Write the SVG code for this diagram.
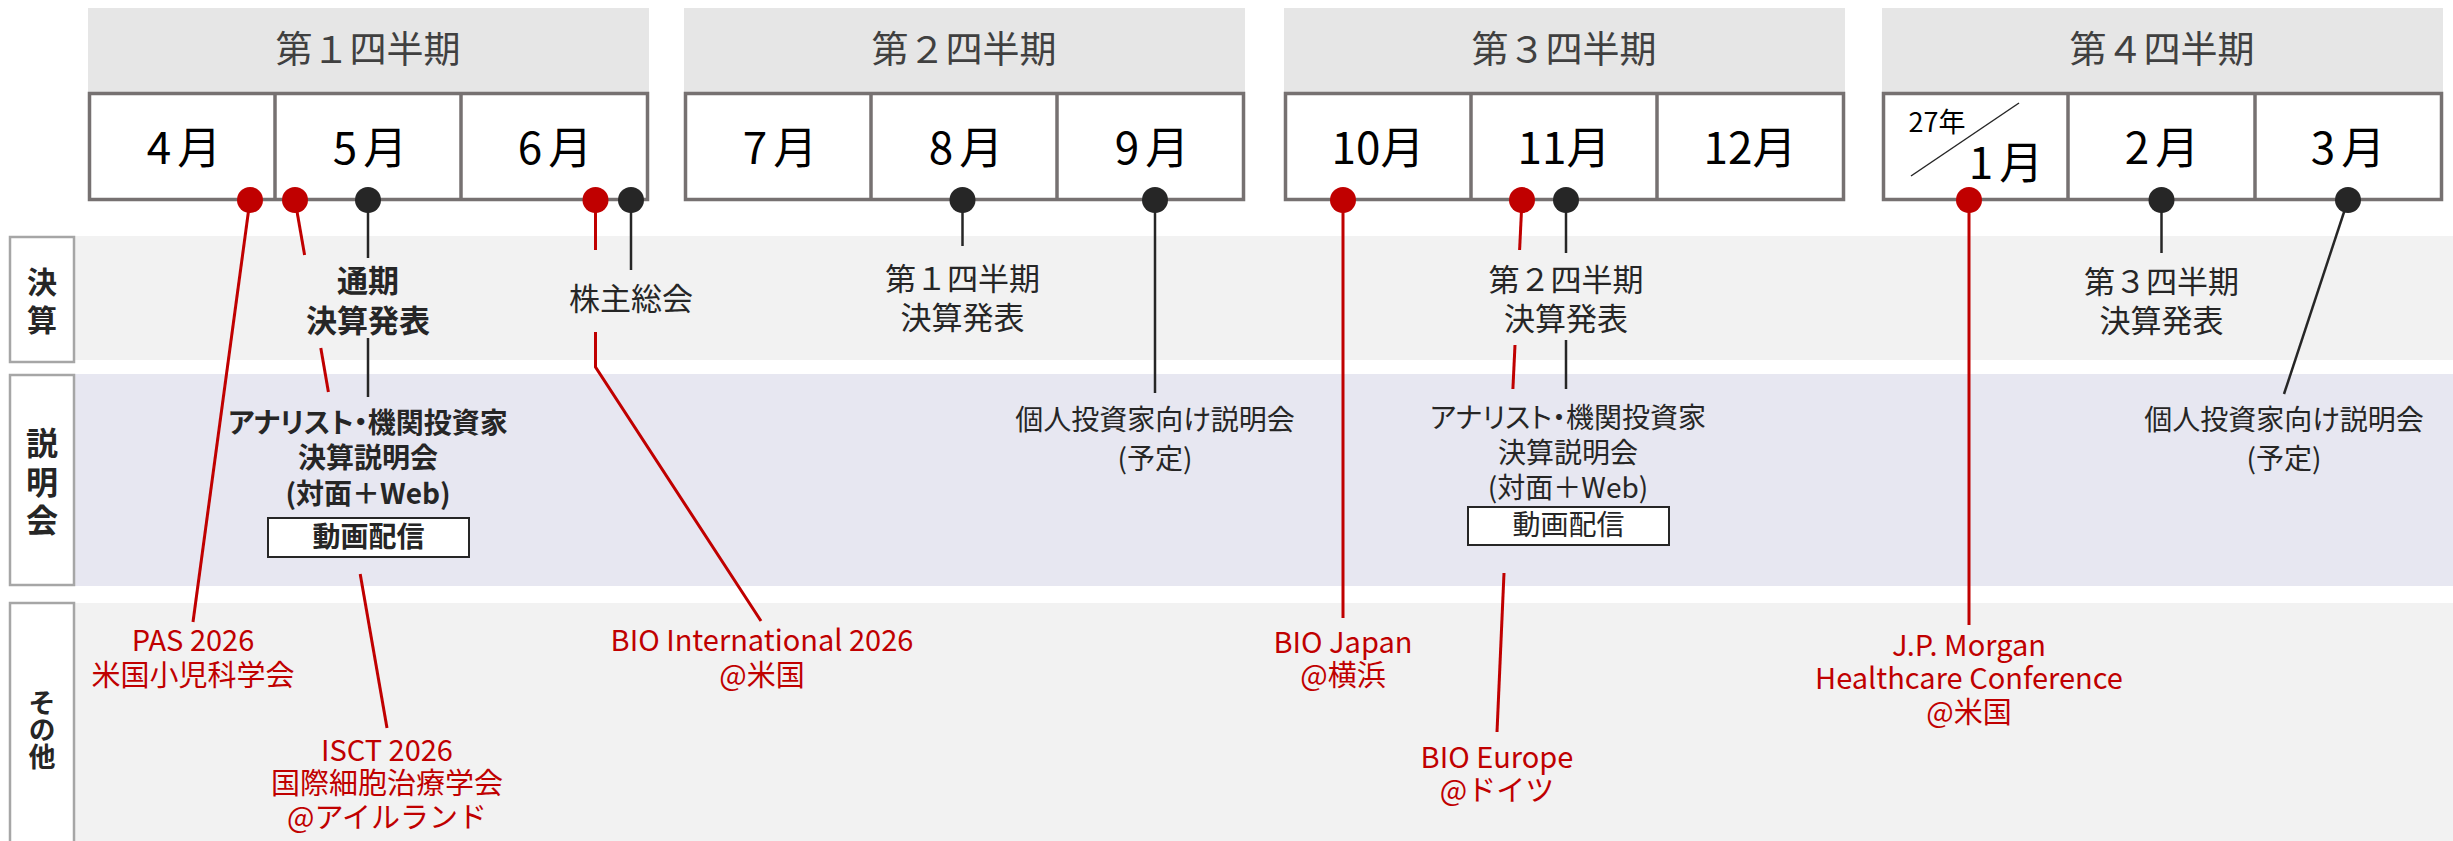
<svg xmlns="http://www.w3.org/2000/svg" width="2453" height="841" viewBox="0 0 2453 841">
<style>
text{font-family:"Noto Sans CJK JP","Noto Sans",sans-serif;text-anchor:middle}
.qh{fill:#e6e6e6}
.qt{font-size:37px;fill:#404040}
.mb{fill:#fff;stroke:#767171;stroke-width:3.5}
.md{stroke:#767171;stroke-width:3.5}
.mt{font-size:44px;fill:#000}
.band1{fill:#f2f2f2}
.band2{fill:#e7e7f1}
.lbox{fill:#fff;stroke:#a6a6a6;stroke-width:2.5}
.lt{font-weight:700;fill:#262626;writing-mode:vertical-rl}
.ev{font-size:31px;fill:#262626}
.evb{font-size:31px;fill:#262626;font-weight:700}
.an{font-size:28px;fill:#262626;font-feature-settings:"palt"}
.anb{font-size:28px;fill:#262626;font-weight:700;font-feature-settings:"palt"}
.vbox{fill:#fff;stroke:#262626;stroke-width:2}
.rt{font-size:29px;fill:#c00000}
.lr{stroke:#c00000;stroke-width:3;fill:none}
.lk{stroke:#262626;stroke-width:2.5;fill:none}
.dr{fill:#c00000}
.dk{fill:#262626}
</style>

<g id="bands">
<rect class="band1" x="74" y="236" width="2379" height="124"/>
<rect class="band2" x="74" y="374" width="2379" height="212"/>
<rect class="band1" x="74" y="603" width="2379" height="238"/>
</g>

<g id="row-kessan">
<rect class="lbox" x="10" y="237" width="64" height="125"/>
<text class="lt" font-size="30" letter-spacing="8" x="42" y="305">決算</text>
</g>
<g id="row-setsumeikai">
<rect class="lbox" x="10" y="375" width="64" height="210"/>
<text class="lt" font-size="32" letter-spacing="6.5" x="42" y="485">説明会</text>
</g>
<g id="row-sonota">
<rect class="lbox" x="10" y="603" width="64" height="250"/>
<text class="lt" font-size="27" x="42" y="730">その他</text>
</g>

<g id="q1">
<rect class="qh" x="88" y="8" width="561" height="86"/>
<text class="qt" x="368" y="63">第１四半期</text>
<rect class="mb" x="89.5" y="93.5" width="558" height="106"/>
<line class="md" x1="275" y1="93.5" x2="275" y2="199.5"/>
<line class="md" x1="461" y1="93.5" x2="461" y2="199.5"/>
<text class="mt" x="184" y="164">4<tspan dx="6">月</tspan></text>
<text class="mt" x="370" y="164">5<tspan dx="6">月</tspan></text>
<text class="mt" x="555" y="164">6<tspan dx="6">月</tspan></text>
</g>
<g id="q2">
<rect class="qh" x="684" y="8" width="561" height="86"/>
<text class="qt" x="964" y="63">第２四半期</text>
<rect class="mb" x="685.5" y="93.5" width="558" height="106"/>
<line class="md" x1="871" y1="93.5" x2="871" y2="199.5"/>
<line class="md" x1="1057" y1="93.5" x2="1057" y2="199.5"/>
<text class="mt" x="780" y="164">7<tspan dx="6">月</tspan></text>
<text class="mt" x="966" y="164">8<tspan dx="6">月</tspan></text>
<text class="mt" x="1152" y="164">9<tspan dx="6">月</tspan></text>
</g>
<g id="q3">
<rect class="qh" x="1284" y="8" width="561" height="86"/>
<text class="qt" x="1564" y="63">第３四半期</text>
<rect class="mb" x="1285.5" y="93.5" width="558" height="106"/>
<line class="md" x1="1471" y1="93.5" x2="1471" y2="199.5"/>
<line class="md" x1="1657" y1="93.5" x2="1657" y2="199.5"/>
<text class="mt" x="1378" y="164">10月</text>
<text class="mt" x="1564" y="164">11月</text>
<text class="mt" x="1750" y="164">12月</text>
</g>
<g id="q4">
<rect class="qh" x="1882" y="8" width="561" height="86"/>
<text class="qt" x="2162" y="63">第４四半期</text>
<rect class="mb" x="1883.5" y="93.5" width="558" height="106"/>
<line class="md" x1="2068" y1="93.5" x2="2068" y2="199.5"/>
<line class="md" x1="2255" y1="93.5" x2="2255" y2="199.5"/>
<line x1="1911" y1="176" x2="2019" y2="103" stroke="#262626" stroke-width="1.5"/>
<text x="1937" y="132" font-size="27" fill="#000">27年</text>
<text class="mt" x="2006" y="179">1<tspan dx="6">月</tspan></text>
<text class="mt" x="2162" y="164">2<tspan dx="6">月</tspan></text>
<text class="mt" x="2348" y="164">3<tspan dx="6">月</tspan></text>
</g>

<g id="connectors">
<line class="lr" x1="250" y1="200" x2="193" y2="622"/>
<line class="lr" x1="295" y1="200" x2="304.6" y2="255"/>
<line class="lr" x1="320.8" y1="348" x2="328.4" y2="392"/>
<line class="lr" x1="360.2" y1="574" x2="387" y2="728"/>
<line class="lk" x1="368" y1="200" x2="368" y2="258"/>
<line class="lk" x1="368" y1="338" x2="368" y2="397"/>
<line class="lr" x1="595.5" y1="200" x2="595.5" y2="250"/>
<polyline class="lr" points="595.5,332 595.5,367 761,621"/>
<line class="lk" x1="631" y1="200" x2="631" y2="270"/>
<line class="lk" x1="962.5" y1="200" x2="962.5" y2="246"/>
<line class="lk" x1="1155" y1="200" x2="1155" y2="393"/>
<line class="lr" x1="1343" y1="200" x2="1343" y2="618"/>
<line class="lr" x1="1522" y1="200" x2="1519.6" y2="250"/>
<line class="lr" x1="1515" y1="345" x2="1512.9" y2="389"/>
<line class="lr" x1="1504" y1="573" x2="1497" y2="732"/>
<line class="lk" x1="1566" y1="200" x2="1566" y2="253"/>
<line class="lk" x1="1566" y1="340" x2="1566" y2="389"/>
<line class="lr" x1="1969" y1="200" x2="1969" y2="625"/>
<line class="lk" x1="2161.5" y1="200" x2="2161.5" y2="253"/>
<line class="lk" x1="2348" y1="200" x2="2284" y2="394"/>
</g>

<g id="dots">
<circle class="dr" cx="250" cy="200" r="13"/>
<circle class="dr" cx="295" cy="200" r="13"/>
<circle class="dk" cx="368" cy="200" r="13"/>
<circle class="dr" cx="595.5" cy="200" r="13"/>
<circle class="dk" cx="631" cy="200" r="13"/>
<circle class="dk" cx="962.5" cy="200" r="13"/>
<circle class="dk" cx="1155" cy="200" r="13"/>
<circle class="dr" cx="1343" cy="200" r="13"/>
<circle class="dr" cx="1522" cy="200" r="13"/>
<circle class="dk" cx="1566" cy="200" r="13"/>
<circle class="dr" cx="1969" cy="200" r="13"/>
<circle class="dk" cx="2161.5" cy="200" r="13"/>
<circle class="dk" cx="2348" cy="200" r="13"/>
</g>

<g id="ev-q1-kessan">
<text class="evb"><tspan x="368" y="292">通期</tspan><tspan x="368" y="332">決算発表</tspan></text>
</g>
<g id="ev-q1-analyst">
<text class="anb"><tspan x="368" y="433">アナリスト・機関投資家</tspan><tspan x="368" y="468">決算説明会</tspan><tspan x="368" y="504">(対面＋Web)</tspan></text>
<rect class="vbox" x="268" y="518" width="201" height="39"/>
<text class="anb" font-size="25" x="368.5" y="547">動画配信</text>
</g>
<g id="ev-agm">
<text class="ev" x="631" y="310">株主総会</text>
</g>
<g id="ev-q2-kessan">
<text class="ev"><tspan x="962.5" y="290">第１四半期</tspan><tspan x="962.5" y="329">決算発表</tspan></text>
</g>
<g id="ev-q2-ir">
<text class="an"><tspan x="1155" y="430">個人投資家向け説明会</tspan><tspan x="1155" y="469">(予定)</tspan></text>
</g>
<g id="ev-q3-kessan">
<text class="ev"><tspan x="1566" y="291">第２四半期</tspan><tspan x="1566" y="330">決算発表</tspan></text>
</g>
<g id="ev-q3-analyst">
<text class="an"><tspan x="1568" y="428">アナリスト・機関投資家</tspan><tspan x="1568" y="463">決算説明会</tspan><tspan x="1568" y="498">(対面＋Web)</tspan></text>
<rect class="vbox" x="1468" y="507" width="201" height="38"/>
<text class="an" font-size="25" x="1568.5" y="535">動画配信</text>
</g>
<g id="ev-q4-kessan">
<text class="ev"><tspan x="2161.5" y="293">第３四半期</tspan><tspan x="2161.5" y="332">決算発表</tspan></text>
</g>
<g id="ev-q4-ir">
<text class="an"><tspan x="2284" y="430">個人投資家向け説明会</tspan><tspan x="2284" y="469">(予定)</tspan></text>
</g>

<g id="ev-pas">
<text class="rt"><tspan x="193" y="651">PAS 2026</tspan><tspan x="193" y="686">米国小児科学会</tspan></text>
</g>
<g id="ev-isct">
<text class="rt"><tspan x="387" y="761">ISCT 2026</tspan><tspan x="387" y="794">国際細胞治療学会</tspan><tspan x="387" y="828">@アイルランド</tspan></text>
</g>
<g id="ev-bio-intl">
<text class="rt"><tspan x="762" y="651">BIO International 2026</tspan><tspan x="762" y="686">@米国</tspan></text>
</g>
<g id="ev-bio-japan">
<text class="rt"><tspan x="1343" y="653">BIO Japan</tspan><tspan x="1343" y="686">@横浜</tspan></text>
</g>
<g id="ev-bio-europe">
<text class="rt"><tspan x="1497" y="768">BIO Europe</tspan><tspan x="1497" y="801">@ドイツ</tspan></text>
</g>
<g id="ev-jpm">
<text class="rt"><tspan x="1969" y="656">J.P. Morgan</tspan><tspan x="1969" y="689">Healthcare Conference</tspan><tspan x="1969" y="723">@米国</tspan></text>
</g>
</svg>
